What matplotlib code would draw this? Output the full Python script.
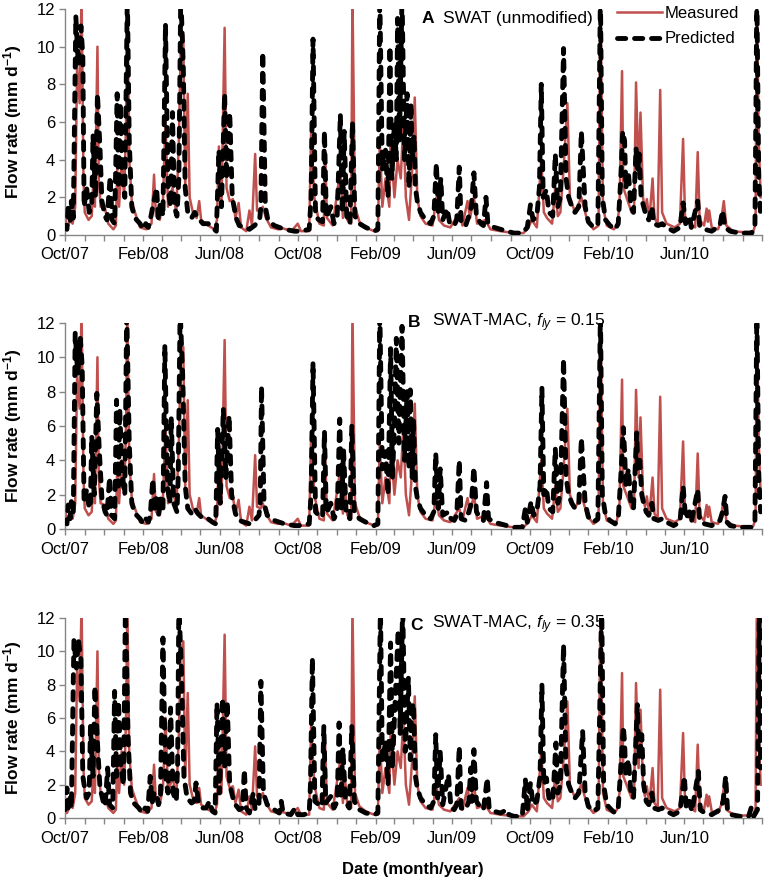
import matplotlib
matplotlib.use('Agg')
import numpy as np
import matplotlib.pyplot as plt
import matplotlib.dates as mdates
from matplotlib.lines import Line2D

plt.rcParams['font.family'] = ['Liberation Sans', 'DejaVu Sans']
plt.rcParams['mathtext.fontset'] = 'custom'
plt.rcParams['mathtext.rm'] = 'Liberation Sans'
plt.rcParams['mathtext.it'] = 'Liberation Sans:italic'
plt.rcParams['mathtext.bf'] = 'Liberation Sans:bold'

# days counted from 1 Oct 2007, flow in mm/d
meas_day = [0, 3, 8, 12, 16, 19, 23, 26, 29, 31, 37, 42, 44, 47, 51, 53, 56, 63, 68, 76,
            80, 82, 85, 89, 93, 96, 98, 101, 105, 110, 118, 128, 136, 140, 143, 149, 154, 158, 162, 169,
            175, 179, 182, 186, 189, 193, 196, 201, 207, 211, 214, 225, 235, 239, 242, 246, 251, 254, 259, 264,
            268, 273, 277, 285, 290, 294, 299, 302, 308, 311, 316, 324, 335, 343, 356, 366, 371, 384, 387, 392,
            400, 407, 409, 412, 421, 433, 437, 440, 444, 450, 452, 456, 463, 473, 486, 492, 495, 499, 504, 510,
            512, 518, 523, 528, 532, 536, 541, 546, 550, 554, 559, 567, 578, 584, 588, 596, 606, 620, 625, 633,
            637, 643, 648, 661, 669, 685, 706, 721, 729, 734, 742, 749, 753, 758, 766, 771, 775, 779, 784, 790,
            794, 802, 812, 821, 831, 839, 842, 846, 852, 863, 868, 872, 876, 878, 883, 891, 895, 898, 902, 905,
            909, 912, 915, 919, 924, 927, 932, 936, 939, 946, 959, 967, 972, 975, 983, 991, 995, 998, 1005, 1009,
            1011, 1013, 1017, 1027, 1032, 1036, 1040, 1051, 1066, 1082, 1086, 1088, 1091, 1094]
meas_flow = [1.2, 0.3, 0.8, 0.6, 1.5, 9, 7, 12.8, 3.0, 1.2, 0.8, 1.0, 2.5, 1.5, 10.0, 3, 1.5, 1.4, 0.6, 0.3,
             0.5, 3.5, 1.5, 4, 2, 6, 12.8, 4, 1.8, 1.2, 0.4, 0.3, 0.6, 3.2, 1.0, 0.8, 1.8, 6.0, 1.5, 2.5,
             1.2, 5, 10, 10.6, 2.5, 7.5, 2.0, 1.2, 0.9, 1.8, 0.8, 0.5, 0.3, 0.8, 4.7, 1.5, 11.0, 2.5, 1.8, 1.9,
             0.9, 1.7, 0.4, 0.2, 1.3, 0.5, 4.3, 1.3, 1.2, 1.5, 0.9, 0.4, 0.3, 0.35, 0.2, 0.6, 0.2, 0.2, 5.5, 2.0,
             0.6, 0.5, 4.5, 0.9, 0.5, 3.5, 0.9, 2.5, 0.8, 0.6, 12.8, 1.5, 0.7, 0.4, 0.2, 0.2, 5, 1.5, 3, 1.5,
             5, 2, 4, 3, 6, 2, 0.8, 3.5, 7.3, 2, 1.0, 0.6, 0.5, 2.0, 0.8, 0.5, 0.4, 1.2, 0.5, 1.8,
             0.9, 2.0, 0.6, 0.8, 0.3, 0.2, 0.1, 0.1, 0.4, 0.8, 0.4, 4.0, 1.2, 0.9, 0.6, 2.5, 1.0, 1.2, 3.5, 7.0,
             2.0, 1.2, 2.0, 0.8, 0.3, 0.5, 12.8, 1.5, 0.5, 0.3, 0.5, 1.5, 8.7, 2.5, 2.0, 1.2, 1.5, 8.1, 3, 6.5,
             2.0, 1.3, 1.9, 0.8, 3.0, 0.9, 0.6, 7.7, 1.2, 0.6, 0.4, 0.6, 5.1, 1.0, 0.6, 0.4, 4.4, 0.8, 0.5, 1.4,
             0.7, 1.3, 0.4, 0.3, 0.8, 1.8, 0.5, 0.2, 0.15, 0.15, 0.6, 12.8, 5, 2]

# A: SWAT (unmodified)
swat_day = [0, 3, 5, 8, 10, 13, 17, 21, 25, 28, 30, 34, 38, 42, 44, 48, 51, 55, 58, 63,
            66, 71, 74, 78, 82, 84, 87, 90, 94, 98, 101, 105, 110, 118, 123, 127, 131, 134, 138, 144,
            147, 150, 154, 158, 162, 166, 169, 172, 176, 179, 182, 186, 189, 193, 199, 204, 209, 217, 225, 232,
            238, 242, 246, 251, 254, 259, 263, 269, 274, 282, 290, 298, 306, 308, 311, 315, 319, 329, 345, 361,
            371, 384, 387, 390, 394, 399, 405, 408, 411, 418, 423, 428, 433, 436, 439, 443, 448, 452, 456, 463,
            473, 486, 492, 495, 499, 504, 508, 511, 514, 518, 521, 523, 526, 530, 534, 538, 541, 544, 546, 549,
            551, 554, 559, 567, 575, 580, 584, 587, 591, 594, 601, 605, 612, 616, 620, 623, 630, 635, 639, 643,
            647, 654, 658, 662, 665, 675, 685, 695, 706, 719, 727, 732, 736, 742, 746, 749, 752, 757, 761, 767,
            771, 775, 779, 784, 788, 792, 797, 802, 808, 812, 818, 823, 831, 838, 842, 845, 850, 857, 865, 870,
            874, 877, 880, 882, 886, 890, 894, 898, 901, 903, 906, 910, 914, 918, 923, 926, 933, 939, 946, 957,
            967, 972, 976, 982, 985, 995, 998, 1006, 1017, 1030, 1034, 1038, 1046, 1061, 1080, 1085, 1088, 1091, 1094]
swat_flow = [0.5, 0.3, 1.6, 0.6, 1.8, 0.9, 11.6, 9, 11.1, 9.5, 1.5, 2.5, 1.2, 1.5, 5.3, 2, 7.5, 4.6, 1.8, 1.0,
             0.8, 3.1, 0.8, 0.6, 7.5, 2.5, 7.0, 3.0, 2.0, 12.8, 5, 1.5, 0.9, 0.6, 0.3, 0.6, 0.4, 0.8, 1.5, 2.5,
             0.8, 1.8, 1.0, 11.2, 2.5, 1.5, 6.5, 1.5, 1.0, 3, 12.8, 9, 2.5, 1.2, 0.9, 1.2, 0.9, 0.6, 0.6, 0.4,
             0.2, 4.5, 1.5, 7.5, 3, 6.5, 2.0, 0.9, 0.5, 0.4, 0.3, 0.5, 0.8, 1.5, 9.7, 1.5, 0.8, 0.5, 0.3, 0.2,
             0.2, 0.3, 2, 10.4, 1.0, 0.8, 0.7, 5.5, 0.9, 1.5, 0.6, 1.0, 6.4, 1.2, 5.5, 1.0, 0.6, 6.0, 1.0, 0.6,
             0.4, 0.2, 0.3, 12.8, 3.5, 4.5, 2, 10, 3, 6, 4, 11.5, 5, 12.8, 4, 7.5, 2.5, 7.0, 4, 5.3,
             2.5, 1.8, 1.2, 0.8, 0.6, 1.0, 3.8, 1.2, 3.0, 0.8, 1.4, 0.6, 0.5, 0.8, 3.6, 0.6, 0.5, 1.0, 1.5, 3.3,
             1.0, 0.6, 0.5, 2.0, 0.6, 0.4, 0.3, 0.2, 0.1, 0.1, 0.4, 1.6, 0.8, 1.0, 2.5, 8.0, 2.0, 2.4, 1.2, 1.0,
             4.3, 1.5, 2.0, 9.9, 3, 2.0, 1.5, 1.2, 1.5, 5.5, 1.5, 0.7, 0.4, 0.6, 12.8, 2, 0.8, 0.5, 0.3, 0.6,
             3, 5.5, 5.0, 2.5, 3.3, 1.5, 1.2, 4.6, 3.5, 4.3, 2.0, 1.5, 1.0, 0.8, 1.5, 0.6, 0.5, 0.6, 0.4, 0.2,
             0.4, 1.7, 0.6, 1.0, 0.4, 1.8, 0.5, 0.3, 0.2, 0.5, 1.3, 0.4, 0.2, 0.1, 0.1, 0.5, 12.8, 3, 1]

# B: SWAT-MAC, fly = 0.15
mac15_day = [0, 3, 5, 8, 10, 13, 16, 20, 24, 27, 30, 34, 38, 40, 42, 46, 50, 54, 58, 63,
             66, 70, 73, 78, 81, 84, 86, 90, 94, 97, 101, 105, 110, 118, 123, 127, 131, 134, 138, 141,
             144, 147, 150, 154, 157, 161, 165, 167, 171, 176, 178, 181, 185, 189, 193, 199, 204, 209, 217, 225,
             232, 237, 240, 244, 249, 253, 258, 262, 268, 274, 282, 290, 298, 305, 307, 309, 313, 318, 329, 345,
             361, 371, 384, 387, 390, 394, 399, 405, 408, 411, 418, 423, 428, 432, 435, 438, 442, 448, 451, 455,
             463, 473, 486, 492, 495, 499, 504, 508, 512, 515, 518, 521, 525, 530, 534, 538, 541, 543, 546, 548,
             551, 554, 559, 567, 575, 580, 583, 587, 590, 594, 603, 607, 612, 616, 620, 623, 630, 635, 639, 643,
             647, 654, 658, 663, 666, 675, 685, 695, 706, 719, 724, 727, 733, 737, 742, 747, 750, 753, 757, 761,
             767, 771, 775, 779, 784, 788, 792, 797, 802, 808, 812, 818, 823, 831, 838, 842, 845, 850, 857, 865,
             870, 874, 878, 880, 882, 886, 890, 894, 899, 901, 904, 907, 910, 914, 918, 923, 926, 933, 939, 946,
             957, 967, 972, 976, 982, 985, 995, 998, 1006, 1017, 1030, 1034, 1038, 1041, 1046, 1061, 1080, 1085, 1088,
             1091, 1094]
mac15_flow = [0.5, 0.3, 1.4, 0.6, 1.6, 0.9, 11.4, 9, 11.1, 9.5, 1.5, 2.3, 1.2, 1.5, 5.4, 2, 7.9, 4.5, 1.8, 1.0,
              0.8, 3.0, 0.8, 0.6, 7.5, 2.5, 7.0, 3.0, 2.0, 12.8, 5, 1.5, 0.9, 0.6, 0.3, 0.6, 0.4, 0.8, 2.9, 1.0,
              2.0, 0.8, 1.8, 1.0, 10.7, 2.5, 1.5, 6.5, 1.5, 1.0, 3, 12.8, 9, 2.5, 1.2, 0.9, 1.2, 0.9, 0.6, 0.6,
              0.4, 0.3, 5.8, 1.5, 7.0, 3, 6.6, 2.0, 0.9, 0.5, 0.4, 0.3, 0.5, 0.8, 1.5, 8.3, 1.5, 0.8, 0.5, 0.3,
              0.2, 0.2, 0.3, 2, 9.7, 1.0, 0.8, 0.7, 5.7, 0.9, 1.5, 0.6, 1.0, 6.4, 1.2, 4.6, 1.0, 0.6, 6.0, 1.0,
              0.6, 0.4, 0.2, 0.3, 12.8, 3.5, 4.5, 2, 10.5, 3, 6, 11.1, 5, 11.8, 4, 8.0, 3.5, 8.1, 3, 6.4,
              2.5, 1.8, 1.2, 0.8, 0.6, 1.0, 4.4, 1.2, 3.5, 0.8, 1.0, 0.6, 0.5, 0.8, 4.0, 0.6, 0.5, 1.0, 1.5, 3.6,
              1.0, 0.6, 0.5, 2.7, 0.6, 0.4, 0.3, 0.2, 0.1, 0.1, 1.2, 0.4, 1.6, 0.8, 1.0, 2.5, 8.2, 2.0, 2.4, 1.2,
              1.0, 4.7, 1.5, 2.0, 9.9, 3, 2.0, 1.5, 1.2, 1.5, 5.3, 1.5, 0.7, 0.4, 0.6, 12.8, 2, 0.8, 0.5, 0.3,
              0.6, 3, 5.9, 4.5, 2.5, 3.5, 1.5, 1.2, 5.6, 3.5, 4.0, 2.0, 1.5, 1.0, 0.8, 1.5, 0.6, 0.5, 0.6, 0.4,
              0.2, 0.4, 2.5, 0.6, 1.0, 0.4, 2.3, 0.5, 0.3, 0.2, 0.5, 1.0, 1.9, 0.4, 0.2, 0.1, 0.1, 0.5, 12.8,
              3, 1]

# C: SWAT-MAC, fly = 0.35
mac35_day = [0, 3, 5, 8, 10, 14, 18, 21, 25, 28, 30, 34, 38, 40, 44, 47, 51, 55, 60, 63,
             67, 70, 75, 78, 81, 84, 88, 92, 95, 99, 103, 108, 116, 121, 126, 130, 134, 137, 140, 144,
             147, 150, 154, 158, 162, 166, 170, 175, 177, 179, 183, 187, 192, 199, 203, 206, 210, 217, 222, 227,
             232, 236, 239, 243, 248, 251, 255, 259, 266, 274, 279, 282, 285, 290, 296, 299, 305, 308, 312, 318,
             329, 337, 340, 343, 355, 362, 366, 375, 384, 386, 389, 393, 399, 404, 407, 410, 418, 423, 428, 431,
             434, 437, 441, 447, 451, 455, 463, 473, 486, 492, 496, 499, 504, 508, 512, 515, 518, 524, 527, 531,
             535, 540, 543, 545, 548, 551, 554, 559, 567, 575, 580, 583, 586, 590, 594, 603, 607, 612, 616, 620,
             623, 630, 635, 638, 640, 643, 647, 654, 658, 664, 667, 675, 685, 695, 698, 706, 719, 724, 727, 732,
             736, 742, 747, 750, 753, 757, 761, 767, 772, 775, 779, 784, 788, 792, 797, 802, 808, 814, 818, 823,
             831, 838, 844, 847, 852, 859, 865, 870, 874, 878, 880, 882, 886, 890, 894, 900, 903, 907, 910, 914,
             918, 923, 926, 933, 939, 946, 957, 967, 974, 977, 982, 986, 996, 999, 1006, 1017, 1030, 1035, 1039, 1042,
             1048, 1061, 1075, 1079, 1083, 1089, 1092, 1094]
mac35_flow = [0.5, 1.8, 0.6, 1.2, 0.6, 10.7, 9, 10.7, 9.5, 2.5, 2.0, 1.2, 1.5, 5.5, 2.5, 7.9, 4.5, 1.8, 1.0, 0.7,
              3.0, 0.8, 0.6, 7.6, 2.5, 7.0, 3.0, 2.0, 12.8, 5, 1.5, 0.9, 0.6, 0.3, 0.6, 0.4, 2.5, 0.9, 1.5, 1.5,
              0.8, 1.2, 10.8, 2.5, 1.5, 6.6, 1.5, 1.0, 3, 12.8, 9, 2.5, 1.2, 0.9, 1.0, 2.1, 0.9, 0.6, 0.6, 1.0,
              0.4, 0.3, 6.9, 1.5, 7.2, 3, 7.0, 2.0, 0.9, 0.5, 0.6, 2.9, 0.6, 0.3, 1.5, 0.5, 0.8, 8.2, 1.5, 0.8,
              0.5, 0.3, 1.0, 0.3, 0.2, 0.6, 0.2, 0.2, 0.3, 2, 9.6, 1.0, 0.8, 0.7, 5.5, 0.9, 1.3, 0.6, 1.0, 5.7,
              1.2, 4.2, 1.0, 0.6, 5.5, 1.0, 0.5, 0.3, 0.2, 0.3, 12.8, 3.5, 4.5, 2, 10.5, 3, 6, 11.3, 5, 12.8,
              4, 8.4, 3.5, 6.5, 6.9, 2.5, 1.8, 1.2, 0.8, 0.6, 1.0, 5.0, 1.2, 4.0, 0.8, 2.6, 0.6, 0.5, 0.8, 4.3,
              0.6, 0.5, 1.0, 3.0, 1.0, 4.1, 1.0, 0.6, 0.5, 2.4, 0.6, 0.4, 0.3, 0.5, 0.2, 0.1, 0.1, 2.3, 0.4, 2.1,
              0.8, 1.0, 2.5, 8.0, 2.0, 2.4, 1.2, 1.0, 4.5, 1.5, 2.0, 10.4, 3, 2.0, 1.5, 1.2, 1.5, 5.2, 1.5, 0.7,
              0.4, 0.6, 12.8, 2, 0.8, 0.5, 0.3, 0.6, 3, 5.5, 4.5, 2.5, 3.5, 1.5, 1.2, 6.8, 3.5, 5.0, 2.0, 1.0,
              0.8, 1.5, 0.6, 0.5, 0.6, 0.4, 0.2, 0.4, 2.5, 0.6, 1.0, 0.4, 2.8, 0.5, 0.3, 0.2, 0.5, 1.0, 2.5, 0.4,
              0.2, 0.1, 0.1, 0.6, 0.1, 0.5, 12.8, 3]

tick_labels = ['Oct/07', 'Feb/08', 'Jun/08', 'Oct/08', 'Feb/09', 'Jun/09', 'Oct/09', 'Feb/10', 'Jun/10']

start = np.datetime64('2007-10-01')


def to_dates(days):
    return start + np.array(days).astype('timedelta64[D]')


red = '#C0504D'
grey = '#868686'

fig = plt.figure(figsize=(7.65, 8.81), dpi=100)
ax_a = fig.add_axes([0.085, 0.7333, 0.911, 0.2565])
ax_b = fig.add_axes([0.085, 0.3995, 0.911, 0.2340])
ax_c = fig.add_axes([0.085, 0.0715, 0.911, 0.2270])

panels = [(ax_a, swat_day, swat_flow, 'A', 'SWAT (unmodified)', 0.512, 0.542, 0.96),
          (ax_b, mac15_day, mac15_flow, 'B', r'SWAT-MAC, $f_{ly}$ = 0.15', 0.492, 0.527, 1.0),
          (ax_c, mac35_day, mac35_flow, 'C', r'SWAT-MAC, $f_{ly}$ = 0.35', 0.495, 0.527, 0.965)]

label_dates = to_dates([0, 123, 244, 366, 489, 609, 731, 854, 974])

for ax, pday, pflow, letter, title, xl, xt, yt in panels:
    ax.plot(to_dates(meas_day), meas_flow, color=red, lw=1.8, zorder=2, label='Measured')
    ax.plot(to_dates(pday), pflow, color='black', lw=3.5, dashes=(1.7, 1.8),
            dash_capstyle='round', zorder=3, label='Predicted')
    ax.set_ylim(0, 12)
    ax.set_xlim(start, np.datetime64('2010-10-01'))
    ax.set_yticks(range(0, 13, 2))
    ax.xaxis.set_major_locator(matplotlib.ticker.FixedLocator(mdates.date2num(label_dates)))
    ax.xaxis.set_major_formatter(matplotlib.ticker.FixedFormatter(tick_labels))
    ax.xaxis.set_minor_locator(mdates.MonthLocator())
    ax.tick_params(axis='both', which='both', direction='out', length=4, width=1,
                   color=grey, labelsize=12, pad=3)
    ax.tick_params(axis='x', pad=5)
    for s in ['top', 'right']:
        ax.spines[s].set_visible(False)
    for s in ['left', 'bottom']:
        ax.spines[s].set_color(grey)
        ax.spines[s].set_linewidth(1)
    ax.set_ylabel(r'Flow rate (mm d$^{\mathbf{-1}}$)', fontsize=12.5, fontweight='bold')
    ax.yaxis.set_label_coords(-0.059, 0.5)
    ax.text(xl, yt, letter, transform=ax.transAxes, fontsize=12.5, fontweight='bold',
            ha='left', va='center')
    ax.text(xt, yt, title, transform=ax.transAxes, fontsize=12.5, ha='left', va='center')

handles = [Line2D([], [], color=red, lw=1.8),
           Line2D([], [], color='black', lw=3.5, dashes=(1.7, 1.8), dash_capstyle='round')]
ax_a.legend(handles, ['Measured', 'Predicted'], loc='upper left', bbox_to_anchor=(0.792, 1.015),
            frameon=False, fontsize=12, handlelength=2.7, handletextpad=0.15,
            labelspacing=0.65, borderpad=0, borderaxespad=0)

fig.text(0.54, 0.0125, 'Date (month/year)', fontsize=12, fontweight='bold', ha='center', va='center')

plt.savefig('out.png', dpi=100)
